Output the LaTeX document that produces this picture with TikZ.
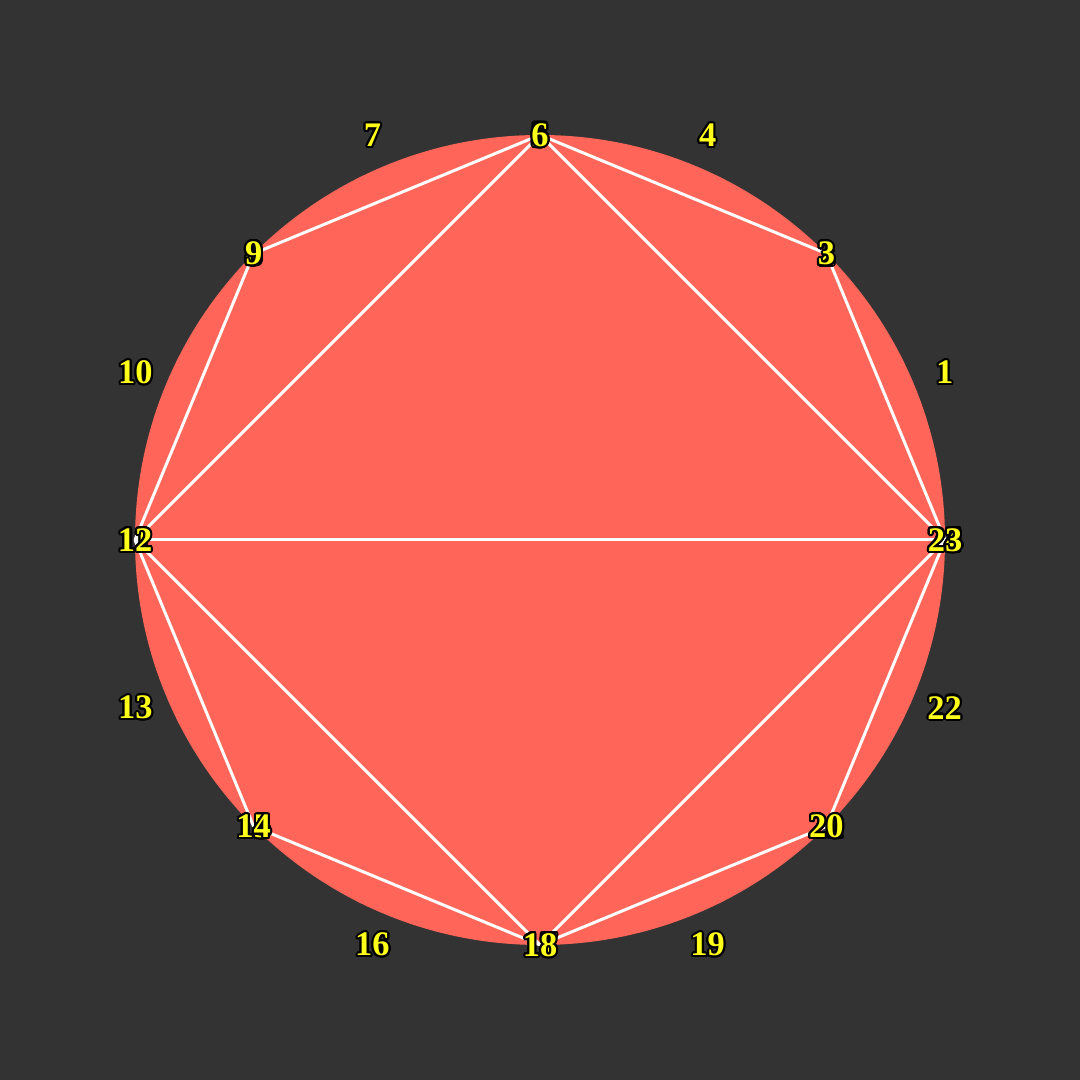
\documentclass[tikz,border=0pt]{standalone}
\usepackage{fontspec}
\setmainfont{Liberation Serif}
\usepackage[copies]{contour}
\usetikzlibrary{calc}
\contourlength{0.6pt}
\definecolor{bg}{HTML}{333333}
\definecolor{disc}{HTML}{FF6659}
\definecolor{lab}{HTML}{FFFF1A}
\tikzset{
  edge/.style={draw=white, line width=0.85pt},
  lbl/.style={inner sep=0pt, yshift=-0.3pt, font=\bfseries\fontsize{9.8}{10}\selectfont, text=lab}
}
\newcommand{\lb}[1]{\contour{black}{#1}}
\begin{document}
\begin{tikzpicture}
\fill[bg] (0,0) rectangle (10.8,10.8);
\useasboundingbox (0,0) rectangle (10.8,10.8);
\coordinate (C) at (5.4,5.4);
\fill[disc] (C) circle (4.05);
\foreach \a/\n in {0/v0,45/v45,90/v90,135/v135,180/v180,225/v225,270/v270,315/v315}
  \coordinate (\n) at ($(C)+(\a:4.05)$);
\foreach \a/\n in {22.5/m1,67.5/m2,112.5/m3,157.5/m4,202.5/m5,247.5/m6,292.5/m7,337.5/m8}
  \coordinate (\n) at ($(C)+(\a:4.38)$);
\draw[edge] (v90) -- (v45);
\draw[edge] (v45) -- (v0);
\draw[edge] (v90) -- (v0);
\draw[edge] (v90) -- (v135);
\draw[edge] (v135) -- (v180);
\draw[edge] (v90) -- (v180);
\draw[edge] (v180) -- (v0);
\draw[edge] (v180) -- (v225);
\draw[edge] (v180) -- (v270);
\draw[edge] (v225) -- (v270);
\draw[edge] (v270) -- (v315);
\draw[edge] (v270) -- (v0);
\draw[edge] (v315) -- (v0);
\node[lbl] (l1) at (m1) {\lb{1}};
\node[lbl] (l2) at (v45) {\lb{2}};
\node[lbl] (l3) at (v45) {\lb{3}};
\node[lbl] (l4) at (m2) {\lb{4}};
\node[lbl] (l5) at (v90) {\lb{5}};
\node[lbl] (l6) at (v90) {\lb{6}};
\node[lbl] (l7) at (m3) {\lb{7}};
\node[lbl] (l8) at (v135) {\lb{8}};
\node[lbl] (l9) at (v135) {\lb{9}};
\node[lbl] (l10) at (m4) {\lb{10}};
\node[lbl] (l11) at (v180) {\lb{11}};
\node[lbl] (l12) at (v180) {\lb{12}};
\node[lbl] (l13) at (m5) {\lb{13}};
\node[lbl] (l15) at (v225) {\lb{15}};
\node[lbl] (l14) at (v225) {\lb{14}};
\node[lbl] (l16) at (m6) {\lb{16}};
\node[lbl] (l17) at (v270) {\lb{17}};
\node[lbl] (l18) at (v270) {\lb{18}};
\node[lbl] (l19) at (m7) {\lb{19}};
\node[lbl] (l21) at (v315) {\lb{21}};
\node[lbl] (l20) at (v315) {\lb{20}};
\node[lbl] (l22) at (m8) {\lb{22}};
\node[lbl] (l24) at (v0) {\lb{24}};
\node[lbl] (l23) at (v0) {\lb{23}};
\end{tikzpicture}
\end{document}
